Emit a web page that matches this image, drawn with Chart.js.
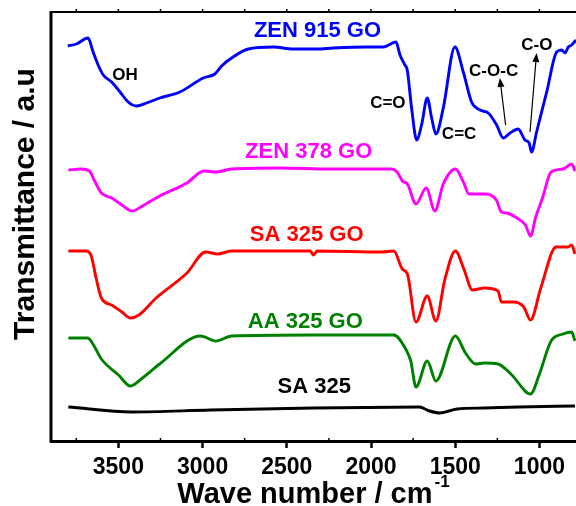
<!DOCTYPE html>
<html>
<head>
<meta charset="utf-8">
<script src="https://cdn.jsdelivr.net/npm/chart.js@4.4.1/dist/chart.umd.min.js"></script>
<style>
  body { margin: 0; background: #fff; }
  .chart-box { width: 576px; height: 506px; position: relative; }
</style>
</head>
<body>
<div class="chart-box"><canvas id="ftirChart"></canvas></div>
<script>
const FONT = '"Liberation Sans", Arial, sans-serif';

// FTIR spectra: [wave number (cm-1), transmittance (a.u., stacked)]
const zen915 = [
  [3800, 395], [3750, 397], [3680, 403], [3650, 389], [3620, 376], [3590, 366],
  [3540, 359], [3490, 349], [3442, 339], [3392, 335], [3333, 338], [3254, 343],
  [3135, 349], [2996, 363], [2927, 367], [2887, 375], [2828, 383], [2729, 392],
  [2581, 394], [2462, 392], [2323, 392], [2224, 393], [2026, 394], [1927, 394],
  [1852, 399], [1828, 386], [1799, 376], [1785, 371], [1759, 333], [1729, 301],
  [1700, 316], [1666, 343], [1640, 323], [1615, 307], [1571, 333], [1502, 394],
  [1452, 369], [1403, 339], [1353, 331], [1304, 328], [1254, 316], [1215, 303],
  [1175, 308], [1126, 312], [1086, 301], [1061, 298], [1047, 289], [1017, 309],
  [957, 349], [898, 389], [868, 391], [848, 388], [829, 394], [809, 396], [783, 401]
];
const zen378 = [
  [3797, 271], [3723, 272], [3672, 270], [3641, 260], [3601, 248], [3540, 243],
  [3479, 236], [3418, 230], [3357, 235], [3255, 245], [3093, 258], [2992, 270],
  [2921, 269], [2829, 272], [2545, 273], [2240, 272], [1876, 272], [1845, 269],
  [1814, 260], [1784, 257], [1733, 237], [1672, 253], [1621, 230], [1571, 257],
  [1499, 272], [1449, 258], [1419, 247], [1327, 247], [1256, 241], [1226, 229],
  [1195, 228], [1134, 223], [1083, 216], [1053, 205], [1022, 224], [982, 243],
  [931, 269], [860, 272], [809, 277], [789, 270]
];
const sa325go = [
  [3797, 190], [3692, 190], [3661, 185], [3631, 162], [3601, 143], [3540, 136],
  [3479, 129], [3428, 123], [3378, 126], [3276, 143], [3093, 168], [2982, 189],
  [2910, 187], [2829, 190], [2360, 190], [2342, 186], [2320, 190], [1936, 189],
  [1865, 190], [1814, 172], [1784, 167], [1733, 119], [1666, 145], [1615, 120],
  [1561, 162], [1499, 190], [1449, 172], [1398, 151], [1327, 153], [1246, 150],
  [1226, 139], [1154, 139], [1093, 134], [1053, 121], [992, 153], [901, 194],
  [830, 194], [809, 196], [789, 187]
];
const aa325go = [
  [3797, 103], [3682, 103], [3651, 97], [3601, 82], [3499, 66], [3428, 55],
  [3357, 63], [3255, 77], [3012, 105], [2921, 100], [2829, 105], [2342, 106],
  [1865, 106], [1794, 92], [1764, 80], [1733, 54], [1666, 80], [1615, 60],
  [1499, 105], [1439, 88], [1378, 77], [1327, 78], [1246, 77], [1164, 66],
  [1053, 47], [1002, 66], [931, 100], [860, 107], [809, 109], [789, 100]
];
const sa325 = [
  [3797, 34], [3418, 29], [2951, 31], [2342, 33], [1713, 34], [1652, 30],
  [1591, 28], [1489, 32], [1327, 33], [1124, 34], [789, 35]
];

const majorTicks = [3500, 3000, 2500, 2000, 1500, 1000];
const minorTicks = [3750, 3250, 2750, 2250, 1750, 1250];

// label text, colour, [wave number, transmittance] of its centre
const curveLabels = [
  ['ZEN 915 GO', '#0000ff', 2318, 410],
  ['ZEN 378 GO', '#ff00ff', 2370, 289],
  ['SA 325 GO', '#ff0000', 2382, 206],
  ['AA 325 GO', '#008000', 2390, 119],
  ['SA 325', '#000000', 2337, 54]
];
const bandLabels = [
  ['OH', 3460, 366],
  ['C=O', 1900, 338],
  ['C=C', 1477, 307],
  ['C-O-C', 1272, 370],
  ['C-O', 1015, 396]
];
// arrows: from [wn, T] to [wn, T]
const bandArrows = [
  [[1201, 316], [1235, 363]],
  [[1056, 309], [1017, 388]]
];

function toPoints(arr) {
  return arr.map(p => ({ x: p[0], y: p[1] }));
}

function spectrum(label, arr, color) {
  return {
    label: label,
    data: toPoints(arr),
    borderColor: color,
    borderWidth: 2.9,
    pointRadius: 0,
    fill: false,
    cubicInterpolationMode: 'monotone'
  };
}

const decorations = {
  id: 'decorations',
  afterDraw(chart) {
    const { ctx, chartArea: a, scales: { x, y } } = chart;
    ctx.save();
    ctx.strokeStyle = '#000';
    ctx.fillStyle = '#000';

    // left and top frame
    ctx.lineWidth = 3;
    ctx.beginPath();
    ctx.moveTo(a.left, a.top - 1);
    ctx.lineTo(a.left, a.bottom + 1.5);
    ctx.stroke();
    ctx.lineWidth = 2;
    ctx.beginPath();
    ctx.moveTo(a.left, a.top);
    ctx.lineTo(a.right, a.top);
    ctx.stroke();

    // small ticks on top edge and minor ticks on bottom edge
    ctx.lineWidth = 1.5;
    majorTicks.concat(minorTicks).forEach(v => {
      const px = x.getPixelForValue(v);
      ctx.beginPath();
      ctx.moveTo(px, a.top);
      ctx.lineTo(px, a.top - 3);
      ctx.stroke();
    });
    minorTicks.forEach(v => {
      const px = x.getPixelForValue(v);
      ctx.beginPath();
      ctx.moveTo(px, a.bottom);
      ctx.lineTo(px, a.bottom - 3);
      ctx.stroke();
    });

    ctx.textAlign = 'center';
    ctx.textBaseline = 'middle';

    // sample names
    ctx.font = 'bold 22px ' + FONT;
    curveLabels.forEach(l => {
      ctx.fillStyle = l[1];
      ctx.fillText(l[0], x.getPixelForValue(l[2]), y.getPixelForValue(l[3]));
    });

    // band assignments
    ctx.fillStyle = '#000';
    ctx.font = 'bold 17px ' + FONT;
    bandLabels.forEach(l => {
      ctx.fillText(l[0], x.getPixelForValue(l[1]), y.getPixelForValue(l[2]));
    });

    ctx.lineWidth = 1.2;
    bandArrows.forEach(ar => {
      const x0 = x.getPixelForValue(ar[0][0]), y0 = y.getPixelForValue(ar[0][1]);
      const x1 = x.getPixelForValue(ar[1][0]), y1 = y.getPixelForValue(ar[1][1]);
      const ang = Math.atan2(y1 - y0, x1 - x0);
      const len = 9, half = 3.5;
      const bx = x1 - len * Math.cos(ang), by = y1 - len * Math.sin(ang);
      ctx.beginPath();
      ctx.moveTo(x0, y0);
      ctx.lineTo(bx, by);
      ctx.stroke();
      ctx.beginPath();
      ctx.moveTo(x1, y1);
      ctx.lineTo(bx + half * Math.sin(ang), by - half * Math.cos(ang));
      ctx.lineTo(bx - half * Math.sin(ang), by + half * Math.cos(ang));
      ctx.closePath();
      ctx.fill();
    });

    // axis titles
    ctx.font = 'bold 30px ' + FONT;
    ctx.textBaseline = 'alphabetic';
    ctx.translate(33.5, 204);
    ctx.rotate(-Math.PI / 2);
    ctx.fillText('Transmittance / a.u', 0, 0);
    ctx.setTransform(1, 0, 0, 1, 0, 0);

    const main = 'Wave number / cm';
    const sup = '-1';
    ctx.font = 'bold 29px ' + FONT;
    const wMain = ctx.measureText(main).width;
    ctx.font = 'bold 17px ' + FONT;
    const wSup = ctx.measureText(sup).width;
    const startX = (a.left + a.right) / 2 - (wMain + 2 + wSup) / 2;
    ctx.textAlign = 'left';
    ctx.font = 'bold 29px ' + FONT;
    ctx.fillText(main, startX, 502.5);
    ctx.font = 'bold 17px ' + FONT;
    ctx.fillText(sup, startX + wMain + 2, 487);

    ctx.restore();
  }
};

const ctx = document.getElementById('ftirChart').getContext('2d');
const ftirChart = new Chart(ctx, {
  type: 'line',
  data: {
    datasets: [
      spectrum('ZEN 915 GO', zen915, '#0000ff'),
      spectrum('ZEN 378 GO', zen378, '#ff00ff'),
      spectrum('SA 325 GO', sa325go, '#ff0000'),
      spectrum('AA 325 GO', aa325go, '#008000'),
      spectrum('SA 325', sa325, '#000000')
    ]
  },
  options: {
    responsive: true,
    maintainAspectRatio: false,
    animation: false,
    layout: {
      padding: { left: 51, top: 12, right: 0, bottom: 0 }
    },
    plugins: {
      legend: { display: false },
      tooltip: { enabled: false }
    },
    scales: {
      x: {
        type: 'linear',
        reverse: true,
        min: 783,
        max: 3900,
        afterBuildTicks: function(scale) {
          scale.ticks = majorTicks.map(v => ({ value: v }));
        },
        afterFit: function(scale) {
          scale.height = 65;
          scale.paddingLeft = 0;
          scale.paddingRight = 0;
        },
        grid: {
          drawOnChartArea: false,
          drawTicks: true,
          tickLength: 7,
          tickWidth: 2.5,
          tickColor: '#000'
        },
        border: {
          display: true,
          width: 3,
          color: '#000'
        },
        ticks: {
          autoSkip: false,
          maxRotation: 0,
          padding: 6,
          color: '#000',
          font: { family: FONT, size: 23, weight: 'bold' },
          callback: function(value) {
            return String(value);
          }
        }
      },
      y: {
        display: false,
        min: 0,
        max: 429
      }
    }
  },
  plugins: [decorations]
});
</script>
</body>
</html>
